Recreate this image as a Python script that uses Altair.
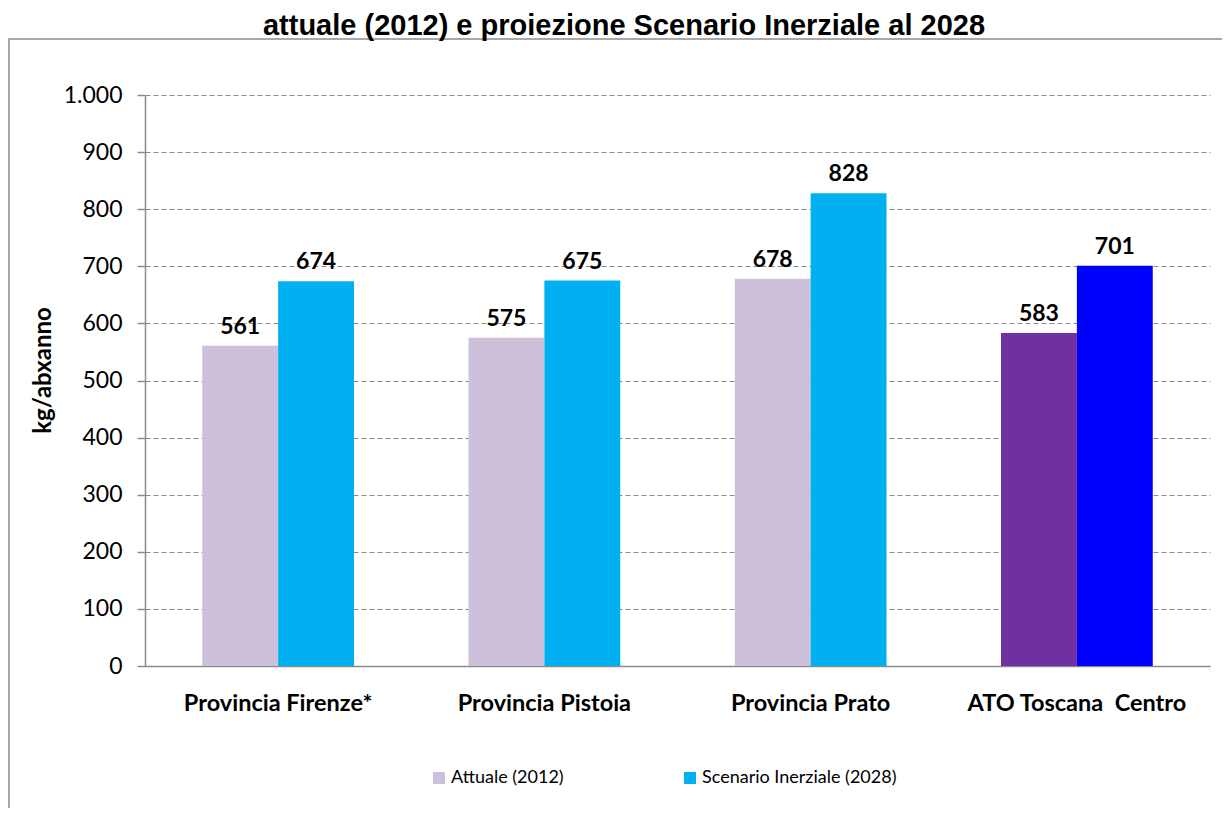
import altair as alt
import pandas as pd

categorie = ["Provincia Firenze*", "Provincia Pistoia", "Provincia Prato", "ATO Toscana\u00a0 Centro"]
serie = ["Attuale (2012)", "Scenario Inerziale (2028)"]
attuale = [561, 575, 678, 583]
scenario = [674, 675, 828, 701]
chiavi_colore = ["Attuale (2012)", "Scenario Inerziale (2028)", "ATO attuale", "ATO scenario"]
colori = ["#CCC0DA", "#00B0F0", "#7030A0", "#0000FF"]
titolo = "attuale (2012) e proiezione Scenario Inerziale al 2028"
y_ticks = [0, 100, 200, 300, 400, 500, 600, 700, 800, 900, 1000]

rows = []
for i, c in enumerate(categorie):
    for s, vals in zip(serie, [attuale, scenario]):
        if i == len(categorie) - 1:
            key = "ATO attuale" if s == serie[0] else "ATO scenario"
        else:
            key = s
        rows.append({"categoria": c, "serie": s, "valore": vals[i], "chiave": key})
df = pd.DataFrame(rows)

FONT = "Lato"
GRAY = "#8c8c8c"
W, H = 1065, 571

x_enc = alt.X(
    "categoria:N", sort=categorie, title=None,
    scale=alt.Scale(paddingInner=0.43, paddingOuter=0.215),
    axis=alt.Axis(labelAngle=0, labelFontWeight="bold", labelFontSize=23.5, labelFont=FONT,
                  labelColor="#000", ticks=False, domainColor=GRAY, domainWidth=1.5,
                  labelPadding=25, labelBaseline="top", labelLimit=400),
)
xo_enc = alt.XOffset("serie:N", sort=serie, scale=alt.Scale(paddingInner=0, paddingOuter=0))
y_enc = alt.Y(
    "valore:Q", title="kg/abxanno",
    scale=alt.Scale(domain=[0, 1000], nice=False),
    axis=alt.Axis(values=y_ticks, labelExpr="replace(format(datum.value, ','), ',', '.')",
                  labelFontSize=23, labelFont=FONT, labelColor="#000", labelPadding=15,
                  tickSize=8, tickColor=GRAY, tickWidth=1.5, domainColor=GRAY, domainWidth=1.5,
                  grid=True, gridColor=GRAY, gridDash=[5, 3], gridWidth=1.2,
                  titleFontSize=24, titleFontWeight="bold", titleFont=FONT, titleColor="#000",
                  titleAngle=270, titleX=-102, titleY=275, titleAlign="center",
                  titleBaseline="middle"),
)

frame = alt.Chart(pd.DataFrame({"f": [0]})).mark_rect(
    fill=None, stroke=GRAY, strokeWidth=1.5
).encode(
    x=alt.value(-136), x2=alt.value(W + 30), y=alt.value(-56), y2=alt.value(H + 160)
)

title = alt.Chart(pd.DataFrame({"t": [titolo]})).mark_text(
    font="Liberation Sans", fontWeight="bold", fontSize=29, baseline="alphabetic", align="center",
    color="#000"
).encode(text="t:N", x=alt.value(479), y=alt.value(-60))

bars = alt.Chart(df).mark_bar().encode(
    x=x_enc, xOffset=xo_enc, y=y_enc,
    color=alt.Color(
        "chiave:N",
        scale=alt.Scale(domain=chiavi_colore, range=colori),
        legend=alt.Legend(values=serie, title=None, orient="none", direction="horizontal",
                          legendX=285, legendY=674, symbolType="square", symbolSize=144,
                          symbolStrokeWidth=0, labelFontSize=18, labelFont=FONT, labelColor="#000",
                          labelOffset=3, columnPadding=117, labelLimit=400),
    ),
)

labels = alt.Chart(df).mark_text(
    baseline="bottom", dy=-7, fontWeight="bold", fontSize=23, font=FONT, color="#000"
).encode(x=x_enc, xOffset=xo_enc, y=alt.Y("valore:Q"), text="valore:Q")

chart = alt.layer(frame, title, bars, labels).properties(
    width=W, height=H,
    autosize=alt.AutoSizeParams(type="none"),
    padding={"left": 137, "top": 87, "right": 12, "bottom": 142},
    background="white",
).configure_view(stroke=None)

chart.save("out.html", embed_options={"renderer": "svg", "actions": False})
